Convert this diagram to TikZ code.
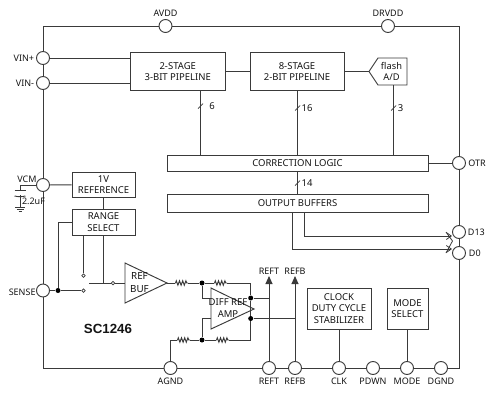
\documentclass[tikz,border=0pt]{standalone}
\usepackage{fontspec}
\setmainfont{Noto Sans}
\newfontfamily\partfont{Liberation Sans}
\usetikzlibrary{arrows.meta, positioning, decorations.pathmorphing}
\definecolor{cLine}{RGB}{58,58,58}
\definecolor{cText}{RGB}{20,20,20}

\begin{document}
\begin{tikzpicture}[
      x=1pt, y=-1pt,
      line width=0.95pt, draw=cLine, text=cText,
      box/.style={draw, align=center, inner sep=0pt, font=\fontsize{9.5}{11.6}\selectfont},
      pin/.style={circle, draw, fill=white, minimum size=13pt, inner sep=0pt},
      lbl/.style={inner sep=0pt, font=\fontsize{9}{10}\selectfont},
      num/.style={inner sep=0pt, font=\fontsize{9.5}{11}\selectfont},
      dot/.style={circle, fill=black, draw=none, minimum size=5pt, inner sep=0pt},
      tap/.style={circle, draw, fill=white, line width=0.7pt, minimum size=3.5pt, inner sep=0pt},
      res/.style={decorate, decoration={zigzag, segment length=3.2pt, amplitude=2.2pt, pre length=0.5pt, post length=0.5pt}},
      up/.style={-{Triangle[length=8pt,width=7pt]}},
      tipopen/.style={-{Straight Barb[length=5pt,width=7pt,line width=0.8pt]}}]
    \useasboundingbox (0,0) rectangle (492,413);
    % pins on the frame
    \node[pin] (pinAVDD)  at (165.5,26) {};
    \node[pin] (pinDRVDD) at (388,26) {};
    \node[pin] (pinVINp)  at (43,58) {};
    \node[pin] (pinVINm)  at (43,83) {};
    \node[pin] (pinVCM)   at (43,185) {};
    \node[pin] (pinSENSE) at (43,290.5) {};
    \node[pin] (pinOTR)   at (459,163) {};
    \node[pin] (pinDhi)   at (459,232) {};
    \node[pin] (pinDlo)   at (459,253) {};
    \node[pin] (pinAGND)  at (170.5,368) {};
    \node[pin] (pinREFT)  at (269,368) {};
    \node[pin] (pinREFB)  at (295,368) {};
    \node[pin] (pinCLK)   at (339,368) {};
    \node[pin] (pinPDWN)  at (373,368) {};
    \node[pin] (pinMODE)  at (407,368) {};
    \node[pin] (pinDGND)  at (441,368) {};
    \draw (pinVINp) |- (pinAVDD);
    \draw (pinAVDD) -- (pinDRVDD);
    \draw (pinDRVDD) -| (pinOTR);
    \draw (pinOTR) -- (pinDhi);
    \draw (pinDhi) -- (pinDlo);
    \draw (pinDlo) |- (pinDGND);
    \draw (pinDGND) -- (pinMODE);
    \draw (pinMODE) -- (pinPDWN);
    \draw (pinPDWN) -- (pinCLK);
    \draw (pinCLK) -- (pinREFB);
    \draw (pinREFB) -- (pinREFT);
    \draw (pinREFT) -- (pinAGND);
    \draw (pinAGND) -| (pinSENSE);
    \draw (pinSENSE) -- (pinVCM);
    \draw (pinVCM) -- (pinVINm);
    \draw (pinVINm) -- (pinVINp);
    % pin labels
    \node[lbl, above=2pt of pinAVDD]  (lblAVDD)  {AVDD};
    \node[lbl, above=2pt of pinDRVDD] (lblDRVDD) {DRVDD};
    \node[lbl, left=1.5pt of pinVINp] (lblVINp)  {VIN+};
    \node[lbl, left=1.5pt of pinVINm] (lblVINm)  {VIN-};
    \node[lbl, anchor=east] (lblVCM) at (37,179.5) {VCM};
    \node[lbl, anchor=east] (lblSENSE) at (36,292.5) {SENSE};
    \node[lbl, right=2pt of pinOTR]   (lblOTR)   {OTR};
    \node[lbl, right=1.5pt of pinDhi] (lblDhi)   {D13};
    \node[lbl, right=2.5pt of pinDlo] (lblDlo)   {D0};
    \node[lbl, below=3pt of pinAGND]  (lblAGND)  {AGND};
    \node[lbl, below=3pt of pinREFT]  (lblREFT)  {REFT};
    \node[lbl, below=3pt of pinREFB]  (lblREFB)  {REFB};
    \node[lbl, below=3pt of pinCLK]   (lblCLK)   {CLK};
    \node[lbl, below=3pt of pinPDWN]  (lblPDWN)  {PDWN};
    \node[lbl, below=3pt of pinMODE]  (lblMODE)  {MODE};
    \node[lbl, below=3pt of pinDGND]  (lblDGND)  {DGND};
    % pipeline
    \node[box, minimum width=94.5pt, minimum height=38pt] (stageA) at (177.75,71.5) {2-STAGE\\3-BIT PIPELINE};
    \node[box, minimum width=94pt, minimum height=38pt] (stageB) at (297,71.5) {8-STAGE\\2-BIT PIPELINE};
    \draw (378,58) coordinate (flashT) -- (407,58) -- (407,85) -- (378,85) -- (369,71.5) coordinate (flashIn) -- cycle;
    \node[num, align=center, font=\fontsize{9.3}{11.6}\selectfont] (flash) at (391.5,71.5) {flash\\A/D};
    \node[box, minimum width=261pt, minimum height=16pt] (corr) at (297.5,163) {CORRECTION LOGIC};
    \node[box, minimum width=261pt, minimum height=18pt] (outbuf) at (297.5,203) {OUTPUT BUFFERS};
    \draw (pinVINp) -- (stageA.west |- pinVINp);
    \draw (pinVINm) -- (stageA.west |- pinVINm);
    \draw (stageA) -- (stageB);
    \draw (stageB) -- (flashIn);
    \draw (pinOTR) -- (corr);
    \draw (200.5,90.5) coordinate (busA) -- (busA |- corr.north);
    \draw (stageB.south) -- (stageB.south |- corr.north);
    \draw (393.5,85) coordinate (busC) -- (busC |- corr.north);
    \draw (corr.south) -- (outbuf.north);
    % bus slashes
    \draw[line width=0.7pt] (198,108.5) coordinate (slashA) -- +(5,-5);
    \draw[line width=0.7pt] (295,110.5) coordinate (slashB) -- +(5,-5);
    \draw[line width=0.7pt] (391,110.5) coordinate (slashC) -- +(5,-5);
    \draw[line width=0.7pt] (295,185.5) coordinate (slashD) -- +(5,-5);
    \node[num] (numA) at (212,106) {6};
    \node[num] (numB) at (307,108) {16};
    \node[num] (numC) at (400.5,108) {3};
    \node[num] (numD) at (307,183) {14};
    % outputs
    \coordinate (tipHi) at (452,236);
    \coordinate (tipLo) at (452,249);
    \draw[tipopen] (304,212) |- (tipHi);
    \draw[tipopen] (292,212) |- (tipLo);
    \draw[line width=0.8pt] (446,232) coordinate (brTop) -- (452.5,241) -- (446,253) coordinate (brBot);
    % reference part
    \node[box, minimum width=63pt, minimum height=25.5pt] (refV) at (103.5,184.75) {1V\\REFERENCE};
    \node[box, minimum width=63pt, minimum height=25.5pt] (rangeSel) at (103.5,222.25) {RANGE\\SELECT};
    \draw (pinVCM) -- (refV);
    \draw (refV) -- (rangeSel);
    % decoupling cap
    \coordinate (capA) at (20,185);
    \coordinate (capB) at (20,190);
    \coordinate (capC) at (20,195);
    \coordinate (capD) at (20,207);
    \draw (pinVCM) -- (capA) -- (capB);
    \draw (capB -| 14.5,0) -- (capB -| 25.5,0);
    \draw (14.5,196) to[bend right=12] (25.5,196);
    \draw (capC) -- (capD);
    \draw (15,207) -- (25,207);
    \draw (16.5,209) -- (23.5,209);
    \draw (18.5,211) -- (21.5,211);
    \node[lbl] (lblCap) at (33.5,201.5) {2.2uF};
    % range switch
    \node[tap] (tapUp)  at (83.5,275.5) {};
    \node[tap] (tapLow) at (83.5,290.5) {};
    \node[tap] (tapIn)  at (113,283) {};
    \node[dot] (dotSense) at (58,290.5) {};
    \coordinate (swEnd) at (89,283);
    \coordinate (swJoin) at (103.5,283);
    \draw (rangeSel.south -| tapUp) -- (tapUp);
    \draw (rangeSel.west) -| (dotSense);
    \draw (pinSENSE) -- (dotSense) -- (tapLow);
    \draw (rangeSel.south) -- (swJoin);
    \draw (swEnd) -- (tapIn);
    % amplifiers
    \draw (125,263) coordinate (bufT) -- (167,283) coordinate (bufOut) -- (125,303) coordinate (bufB) -- cycle;
    \draw (211,288) coordinate (ampT) -- (254,309) coordinate (ampOut) -- (211,329) coordinate (ampB) -- cycle;
    \coordinate (bufIn) at (125,283);
    \draw (tapIn) -- (bufIn);
    \node[num, font=\fontsize{9.8}{13}\selectfont, align=center] (bufTxt) at (139.5,282.5) {REF\\BUF};
    \node[num, font=\fontsize{9.5}{12}\selectfont, align=center] (ampTxt) at (228,308) {DIFF REF\\AMP};
    % resistor network
    \node[dot] (dotA) at (202,283) {};
    \node[dot] (dotB) at (250.7,298) {};
    \node[dot] (dotC) at (250.7,318.5) {};
    \node[dot] (dotD) at (202,340) {};
    \coordinate (resAa) at (175,283);
    \coordinate (resAb) at (188,283);
    \coordinate (resBa) at (214,283);
    \coordinate (resBb) at (227,283);
    \coordinate (resCa) at (216,340);
    \coordinate (resCb) at (229,340);
    \coordinate (resDa) at (177,340);
    \coordinate (resDb) at (190,340);
    \draw (bufOut) -- (resAa);
    \draw[res] (resAa) -- (resAb);
    \draw (resAb) -- (dotA) -- (resBa);
    \draw[res] (resBa) -- (resBb);
    \draw (resBb) -| (dotB);
    \draw (dotB) -- (dotC);
    \draw (dotC) |- (resCb);
    \draw[res] (resCa) -- (resCb);
    \draw (resCa) -- (dotD) -- (resDb);
    \draw[res] (resDa) -- (resDb);
    \draw (resDa) -| (pinAGND);
    \draw (dotA) |- (211,298);
    \draw (dotD) |- (211,318.5);
    % reference outputs
    \coordinate (tipREFT) at (269,276);
    \coordinate (tipREFB) at (295,276);
    \draw[up] (pinREFT) -- (tipREFT);
    \draw[up] (pinREFB) -- (tipREFB);
    \draw (dotB) -- (dotB -| pinREFT);
    \draw (dotC) -- (dotC -| pinREFB);
    \node[lbl, above=1.5pt of tipREFT] (lblTipT) {REFT};
    \node[lbl, above=1.5pt of tipREFB] (lblTipB) {REFB};
    % control blocks
    \node[box, minimum width=64pt, minimum height=41pt] (clkBox) at (339,308.5) {CLOCK\\DUTY CYCLE\\STABILIZER};
    \node[box, minimum width=41pt, minimum height=41pt] (modeBox) at (407.5,308.5) {MODE\\SELECT};
    \draw (clkBox) -- (pinCLK);
    \draw (modeBox.south -| pinMODE) -- (pinMODE);
    \node[inner sep=0pt, font=\partfont\bfseries\fontsize{13.3}{15}\selectfont] (partName) at (108,329) {SC1246};
  \end{tikzpicture}
\end{document}
